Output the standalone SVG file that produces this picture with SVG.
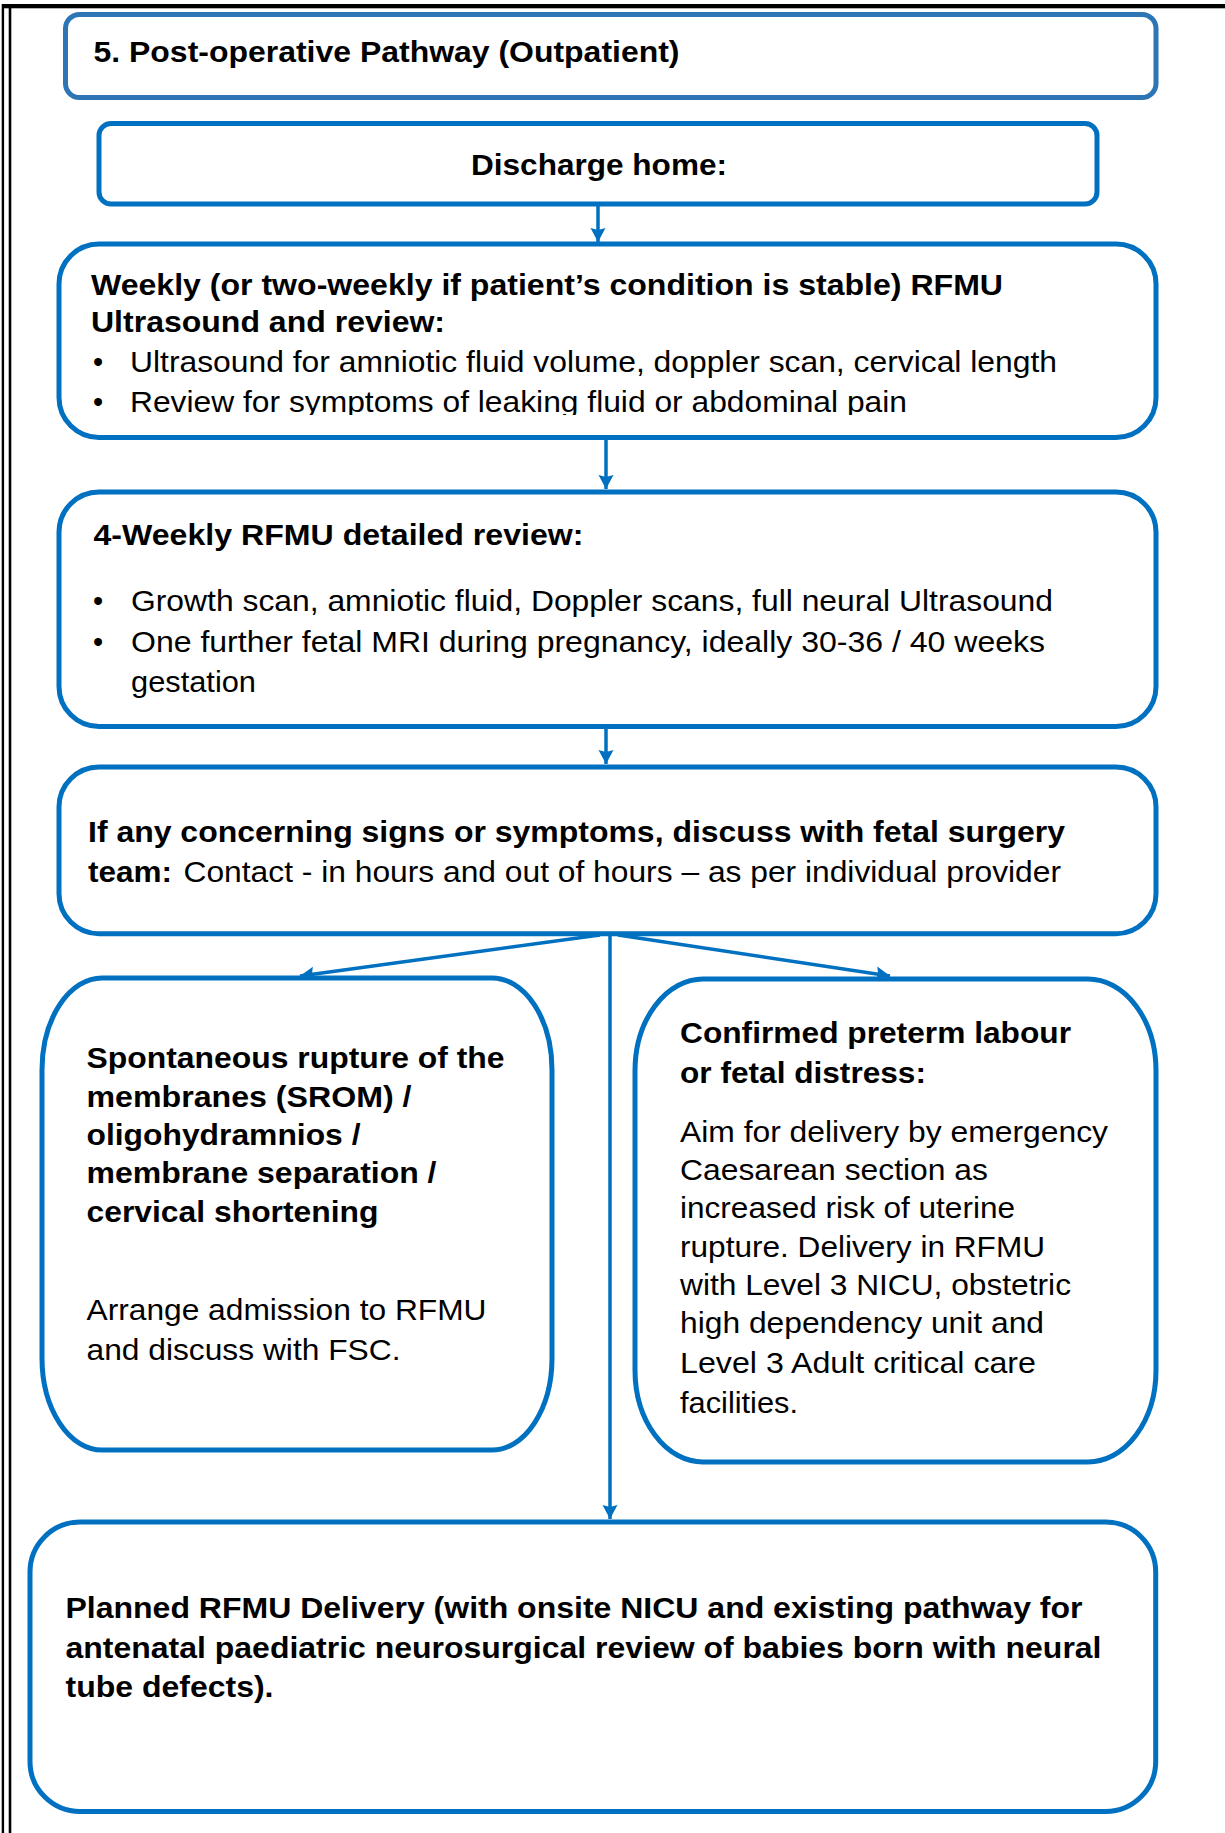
<svg xmlns="http://www.w3.org/2000/svg" width="1225" height="1833" viewBox="0 0 1225 1833">
<style>
.box{fill:#fff;stroke:#0070C0;stroke-width:5}
.tbox{fill:#fff;stroke:#2E75B6;stroke-width:5}
.b{font-family:"Liberation Sans",Arial,sans-serif;font-weight:bold;font-size:29px;fill:#000}
.r{font-family:"Liberation Sans",Arial,sans-serif;font-weight:normal;font-size:29px;fill:#000}
.conn{stroke:#0070C0;stroke-width:3.5;fill:none;marker-end:url(#arr)}
</style>
<defs>
<marker id="arr" markerUnits="userSpaceOnUse" viewBox="0 -8 14 16" refX="14" refY="0" markerWidth="14" markerHeight="16" orient="auto">
<path d="M0,-7.5 L14,0 L0,7.5 L2,0 z" fill="#0070C0"/>
</marker>
<clipPath id="clip3"><rect x="0" y="240" width="1225" height="175"/></clipPath>
</defs>
<rect width="1225" height="1833" fill="#fff"/>
<g id="page-border" fill="#000">
<rect x="2" y="4" width="1223" height="4.3"/>
<rect x="1.7" y="4" width="2.4" height="1829"/>
<rect x="8.7" y="8" width="2.6" height="1825"/>
</g>
<g id="connectors">
<line class="conn" x1="598" y1="206" x2="598" y2="242"/>
<line class="conn" x1="606" y1="439" x2="606" y2="489"/>
<line class="conn" x1="606" y1="728" x2="606" y2="764"/>
<line class="conn" x1="610" y1="935" x2="610" y2="1519"/>
<line class="conn" x1="600" y1="935" x2="300" y2="976"/>
<line class="conn" x1="618" y1="935" x2="890" y2="976"/>
</g>
<g id="title">
<rect class="tbox" x="65.5" y="14.5" width="1090.5" height="83" rx="14"/>
<text class="b" x="93.5" y="62" textLength="586" lengthAdjust="spacingAndGlyphs">5. Post-operative Pathway (Outpatient)</text>
</g>
<g id="discharge">
<rect class="box" x="99" y="123.5" width="998" height="80.5" rx="12"/>
<text class="b" x="599" y="175" text-anchor="middle" textLength="256" lengthAdjust="spacingAndGlyphs">Discharge home:</text>
</g>
<g id="weekly">
<rect class="box" x="59" y="244" width="1097" height="193.5" rx="40"/>
<text class="b" x="91" y="295" textLength="912" lengthAdjust="spacingAndGlyphs">Weekly (or two-weekly if patient’s condition is stable) RFMU</text>
<text class="b" x="91" y="332" textLength="354" lengthAdjust="spacingAndGlyphs">Ultrasound and review:</text>
<text class="r" x="93" y="372">•</text>
<text class="r" x="130" y="372" textLength="927" lengthAdjust="spacingAndGlyphs">Ultrasound for amniotic fluid volume, doppler scan, cervical length</text>
<g clip-path="url(#clip3)">
<text class="r" x="93" y="412">•</text>
<text class="r" x="130" y="412" textLength="777" lengthAdjust="spacingAndGlyphs">Review for symptoms of leaking fluid or abdominal pain</text>
</g>
</g>
<g id="four-weekly">
<rect class="box" x="59" y="492" width="1097" height="234.5" rx="40"/>
<text class="b" x="93.5" y="545" textLength="490" lengthAdjust="spacingAndGlyphs">4-Weekly RFMU detailed review:</text>
<text class="r" x="93" y="611">•</text>
<text class="r" x="131" y="611" textLength="922" lengthAdjust="spacingAndGlyphs">Growth scan, amniotic fluid, Doppler scans, full neural Ultrasound</text>
<text class="r" x="93" y="652">•</text>
<text class="r" x="131" y="652" textLength="914" lengthAdjust="spacingAndGlyphs">One further fetal MRI during pregnancy, ideally 30-36 / 40 weeks</text>
<text class="r" x="131" y="692" textLength="125" lengthAdjust="spacingAndGlyphs">gestation</text>
</g>
<g id="concerns">
<rect class="box" x="59" y="767" width="1097" height="166.7" rx="40"/>
<text class="b" x="88" y="842" textLength="977" lengthAdjust="spacingAndGlyphs">If any concerning signs or symptoms,  discuss with fetal surgery</text>
<text class="b" x="88" y="882" textLength="84" lengthAdjust="spacingAndGlyphs">team:</text>
<text class="r" x="183.5" y="882" textLength="877.5" lengthAdjust="spacingAndGlyphs">Contact - in hours and out of hours – as per individual provider</text>
</g>
<g id="srom">
<rect class="box" x="42" y="978" width="510" height="472" rx="60" ry="92"/>
<text class="b" x="86.5" y="1068" textLength="418" lengthAdjust="spacingAndGlyphs">Spontaneous rupture of the</text>
<text class="b" x="86.5" y="1107" textLength="325" lengthAdjust="spacingAndGlyphs">membranes (SROM) /</text>
<text class="b" x="86.5" y="1145" textLength="274" lengthAdjust="spacingAndGlyphs">oligohydramnios  /</text>
<text class="b" x="86.5" y="1183" textLength="350" lengthAdjust="spacingAndGlyphs">membrane  separation /</text>
<text class="b" x="86.5" y="1222" textLength="292" lengthAdjust="spacingAndGlyphs">cervical shortening</text>
<text class="r" x="86.5" y="1320" textLength="400" lengthAdjust="spacingAndGlyphs">Arrange admission to RFMU</text>
<text class="r" x="86.5" y="1360" textLength="314" lengthAdjust="spacingAndGlyphs">and discuss with FSC.</text>
</g>
<g id="preterm">
<rect class="box" x="635" y="979" width="521" height="483" rx="68" ry="92"/>
<text class="b" x="680" y="1043" textLength="391" lengthAdjust="spacingAndGlyphs">Confirmed preterm labour</text>
<text class="b" x="680" y="1083" textLength="246" lengthAdjust="spacingAndGlyphs">or fetal distress:</text>
<text class="r" x="680" y="1142" textLength="428" lengthAdjust="spacingAndGlyphs">Aim for delivery by emergency</text>
<text class="r" x="680" y="1180" textLength="308" lengthAdjust="spacingAndGlyphs">Caesarean section as</text>
<text class="r" x="680" y="1218" textLength="335" lengthAdjust="spacingAndGlyphs">increased risk of uterine</text>
<text class="r" x="680" y="1257" textLength="365" lengthAdjust="spacingAndGlyphs">rupture. Delivery in RFMU</text>
<text class="r" x="680" y="1295" textLength="391" lengthAdjust="spacingAndGlyphs">with Level 3 NICU, obstetric</text>
<text class="r" x="680" y="1333" textLength="364" lengthAdjust="spacingAndGlyphs">high dependency unit and</text>
<text class="r" x="680" y="1373" textLength="356" lengthAdjust="spacingAndGlyphs">Level 3 Adult critical care</text>
<text class="r" x="680" y="1413" textLength="118" lengthAdjust="spacingAndGlyphs">facilities.</text>
</g>
<g id="planned-delivery">
<rect class="box" x="30" y="1522" width="1125.7" height="289.5" rx="50"/>
<text class="b" x="65.5" y="1618" textLength="1017" lengthAdjust="spacingAndGlyphs">Planned RFMU Delivery (with onsite NICU and existing pathway for</text>
<text class="b" x="65.5" y="1658" textLength="1036" lengthAdjust="spacingAndGlyphs">antenatal paediatric neurosurgical review of babies born with neural</text>
<text class="b" x="65.5" y="1697" textLength="208" lengthAdjust="spacingAndGlyphs">tube defects).</text>
</g>
</svg>
